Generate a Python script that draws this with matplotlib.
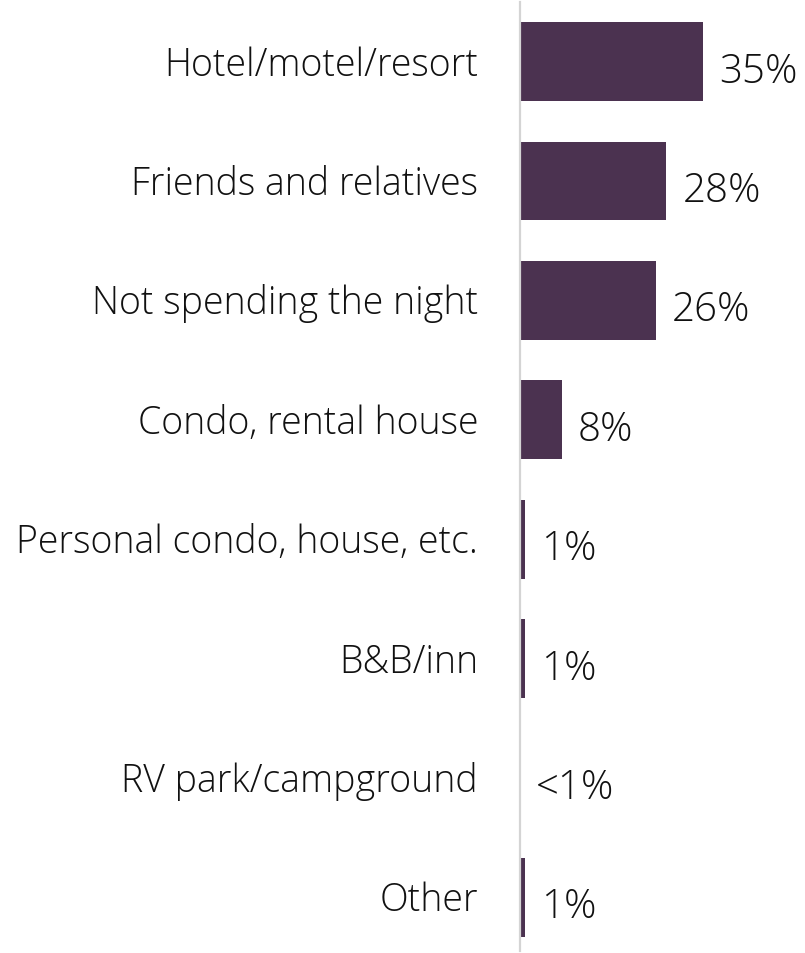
import matplotlib.pyplot as plt

plt.rcParams['font.family'] = ['Open Sans', 'DejaVu Sans']

categories = ["Hotel/motel/resort", "Friends and relatives", "Not spending the night",
              "Condo, rental house", "Personal condo, house, etc.", "B&B/inn",
              "RV park/campground", "Other"]
values = [35, 28, 26, 8, 1, 1, 0, 1]
value_labels = ["35%", "28%", "26%", "8%", "1%", "1%", "<1%", "1%"]

bar_color = "#4b3250"
text_color = "#111111"

fig = plt.figure(figsize=(8.05, 9.54), dpi=100)
ax = fig.add_axes([520/805, 2/954, 285/805, 949/954])

pos = list(range(len(categories)))
ax.barh(pos, values, height=0.66, color=bar_color, left=0)
ax.set_xlim(0, 285/5.23)
ax.set_ylim(7.45, -0.5)

for i in pos:
    # value labels right of the bar end
    ax.annotate(value_labels[i], xy=(values[i], i), xytext=(16, -20),
                textcoords='offset pixels', ha='left', va='baseline',
                fontsize=29, fontweight=300, color=text_color)
    # category labels left of the axis line
    ax.annotate(categories[i], xy=(0, i), xytext=(-42, -13),
                textcoords='offset pixels', ha='right', va='baseline',
                fontsize=27, fontweight=300, color=text_color,
                annotation_clip=False)

for s in ['top', 'right', 'bottom']:
    ax.spines[s].set_visible(False)
ax.spines['left'].set_color('#d4d4d4')
ax.spines['left'].set_linewidth(1.6)
ax.set_xticks([])
ax.set_yticks([])

fig.savefig("out.png", dpi=100)
